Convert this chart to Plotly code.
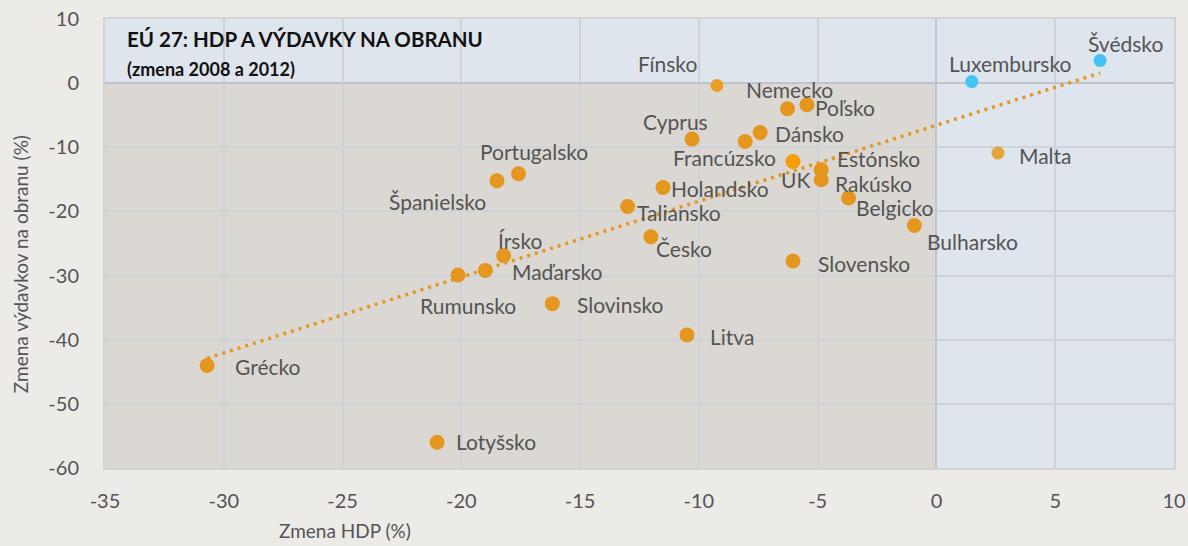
import numpy as np
import plotly.graph_objects as go

# ---- data ----
countries = ["Švédsko", "Luxembursko", "Malta", "Fínsko", "Nemecko", "Poľsko", "Cyprus",
             "Dánsko", "Francúzsko", "UK", "Estónsko", "Rakúsko", "Holandsko", "Belgicko",
             "Bulharsko", "Slovensko", "Česko", "Taliansko", "Portugalsko", "Španielsko",
             "Írsko", "Maďarsko", "Rumunsko", "Slovinsko", "Litva", "Grécko", "Lotyšsko"]
gdp_change = [6.89, 1.49, 2.59, -9.24, -6.27, -5.45, -10.29,
              -7.42, -8.05, -6.04, -4.85, -4.85, -11.51, -3.70,
              -0.93, -6.04, -12.02, -13.0, -17.59, -18.50,
              -18.22, -18.99, -20.14, -16.17, -10.50, -30.70, -21.02]
defence_change = [3.52, 0.25, -10.9, -0.37, -4.0, -3.38, -8.72,
                  -7.69, -9.10, -12.21, -13.5, -15.06, -16.28, -17.91,
                  -22.18, -27.73, -23.94, -19.22, -14.13, -15.22,
                  -26.9, -29.19, -29.91, -34.38, -39.25, -44.03, -55.98]
x_ticks = [-35, -30, -25, -20, -15, -10, -5, 0, 5, 10]
y_ticks = [10, 0, -10, -20, -30, -40, -50, -60]

# ---- styles ----
ORANGE = "#E4961F"
colors = {"Švédsko": "#45C3F5", "Luxembursko": "#45C3F5", "Malta": "#E6A43E",
          "Fínsko": "#EC9E22", "UK": "#F59E05"}
sizes = {"Švédsko": 13, "Luxembursko": 13, "Malta": 13, "Fínsko": 13}
# label offsets in pixels (dx right, dy down) relative to the marker
label_off = {
    "Švédsko": (25, -17), "Luxembursko": (38, -18), "Malta": (48, 2), "Fínsko": (-49, -22),
    "Nemecko": (2, -19), "Poľsko": (38, 3), "Cyprus": (-17, -18), "Dánsko": (49, 1),
    "Francúzsko": (-21, 16), "UK": (3, 18), "Estónsko": (57, -11), "Rakúsko": (52, 4),
    "Holandsko": (57, 1), "Belgicko": (46, 9), "Bulharsko": (58, 16), "Slovensko": (71, 2),
    "Česko": (33, 12), "Taliansko": (51, 6), "Portugalsko": (15, -22), "Španielsko": (-59, 21),
    "Írsko": (16, -15), "Maďarsko": (72, 1), "Rumunsko": (10, 31), "Slovinsko": (68, 1),
    "Litva": (45, 2), "Grécko": (61, 1), "Lotyšsko": (59, -1),
}

FONT = "Lato"
TXT = "#545454"

fig = go.Figure()

# trend line (least squares)
slope, intercept = np.polyfit(gdp_change, defence_change, 1)
xs = np.array([min(gdp_change), max(gdp_change)])
fig.add_trace(go.Scatter(x=xs, y=slope * xs + intercept, mode="lines",
                         line=dict(color=ORANGE, width=3.5, dash="3px,5px"),
                         hoverinfo="skip", showlegend=False))

fig.add_trace(go.Scatter(
    x=gdp_change, y=defence_change, mode="markers", text=countries,
    marker=dict(color=[colors.get(c, ORANGE) for c in countries], opacity=1,
                size=[sizes.get(c, 15) for c in countries], line=dict(width=0)),
    showlegend=False))

for c, xv, yv in zip(countries, gdp_change, defence_change):
    dx, dy = label_off[c]
    fig.add_annotation(x=xv, y=yv, text=c, showarrow=False, xshift=dx, yshift=-dy,
                       xanchor="center", yanchor="middle",
                       font=dict(family=FONT, size=21, color=TXT))

# shaded quadrant
fig.add_shape(type="rect", xref="x", yref="y", x0=-35, x1=0, y0=-60, y1=0,
              fillcolor="#DBD8D3", line=dict(width=0), layer="below")

# title
fig.add_annotation(xref="paper", yref="paper", x=0.019, y=0.955, xanchor="left", yanchor="middle",
                   text="<b>EÚ 27: HDP A VÝDAVKY NA OBRANU</b>", showarrow=False,
                   font=dict(family=FONT, size=20.5, color="#111111"))
fig.add_annotation(xref="paper", yref="paper", x=0.019, y=0.888, xanchor="left", yanchor="middle",
                   text="<b>(zmena 2008 a 2012)</b>", showarrow=False,
                   font=dict(family=FONT, size=18, color="#111111"))

# axis titles
fig.add_annotation(xref="paper", yref="paper", x=0.2248, y=-0.139, xanchor="center", yanchor="middle",
                   text="Zmena HDP (%)", showarrow=False,
                   font=dict(family=FONT, size=19, color=TXT))
fig.add_annotation(xref="paper", yref="paper", x=-0.079, y=0.453, xanchor="center", yanchor="middle",
                   text="Zmena výdavkov na obranu (%)", showarrow=False, textangle=-90,
                   font=dict(family=FONT, size=19, color=TXT))

fig.update_layout(
    width=1188, height=546, autosize=False,
    margin=dict(l=105, r=14, t=19, b=78, autoexpand=False),
    paper_bgcolor="#ECEBE8", plot_bgcolor="#DEE5EC",
    font=dict(family=FONT, color=TXT),
    showlegend=False,
)
fig.update_xaxes(range=[-35, 10], tickvals=x_ticks, ticktext=[str(v) for v in x_ticks],
                 automargin=False,
                 showgrid=True, gridcolor="#CDD3D8", gridwidth=2,
                 zeroline=True, zerolinecolor="#BCC6D0", zerolinewidth=2,
                 showline=True, linecolor="#D3D3D3", linewidth=2, mirror=True,
                 ticks="outside", ticklen=14, tickcolor="rgba(0,0,0,0)",
                 tickfont=dict(family=FONT, size=20, color=TXT))
fig.update_yaxes(range=[-60, 10], tickvals=y_ticks, ticktext=[str(v) for v in y_ticks],
                 automargin=False,
                 showgrid=True, gridcolor="#CDD3D8", gridwidth=2,
                 zeroline=True, zerolinecolor="#BFC4C8", zerolinewidth=2,
                 showline=True, linecolor="#D3D3D3", linewidth=2, mirror=True,
                 ticks="outside", ticklen=20, tickcolor="rgba(0,0,0,0)",
                 tickfont=dict(family=FONT, size=20, color=TXT))

fig.write_html("out.html", config={"displayModeBar": False, "responsive": False},
               post_script="document.body.style.margin='0';document.body.style.background='#ECEBE8';")
